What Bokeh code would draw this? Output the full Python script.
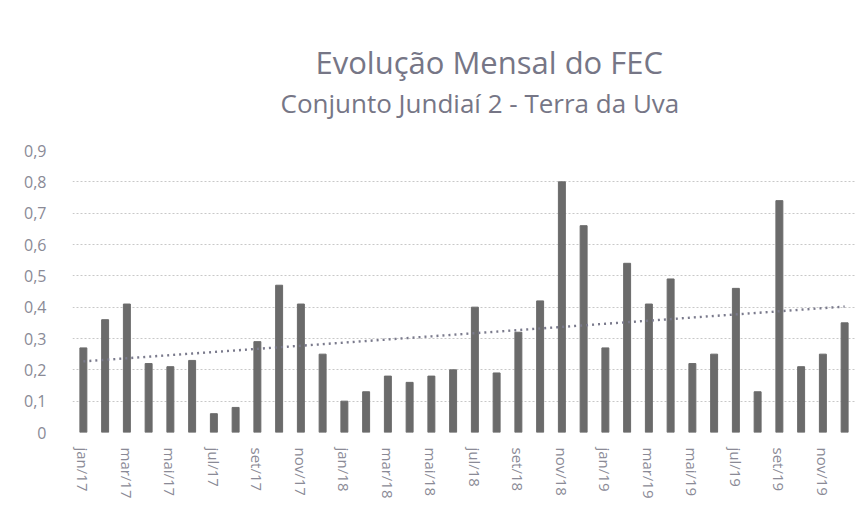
import numpy as np
from bokeh.plotting import figure
from bokeh.models import Title, Range1d, CustomJSTickFormatter, FixedTicker
from bokeh.embed import file_html
from bokeh.resources import INLINE

month_abbr = ["jan", "fev", "mar", "abr", "mai", "jun", "jul", "ago", "set", "out", "nov", "dez"]
years = ["17", "18", "19"]
months = [f"{m}/{y}" for y in years for m in month_abbr]

fec = [0.27, 0.36, 0.41, 0.22, 0.21, 0.23, 0.06, 0.08, 0.29, 0.47, 0.41, 0.25,
       0.10, 0.13, 0.18, 0.16, 0.18, 0.20, 0.40, 0.19, 0.32, 0.42, 0.80, 0.66,
       0.27, 0.54, 0.41, 0.49, 0.22, 0.25, 0.46, 0.13, 0.74, 0.21, 0.25, 0.35]

y_ticks = [0, 0.1, 0.2, 0.3, 0.4, 0.5, 0.6, 0.7, 0.8, 0.9]

title_text = "Evolução Mensal do FEC"
subtitle_text = "Conjunto Jundiaí 2 - Terra da Uva"

idx = list(range(len(fec)))
# linear trend (least squares) as in the spreadsheet chart
slope, intercept = np.polyfit(idx, fec, 1)
trend = [slope * i + intercept for i in idx]

FONT = "Open Sans"
GREY = "#8a8a96"
TITLE_COLOR = "#767686"

p = figure(width=858, height=503, output_backend="svg", toolbar_location=None,
           x_range=Range1d(-0.5, len(fec) - 0.5),
           y_range=Range1d(0, 0.9),
           min_border_left=72, min_border_right=3, min_border_bottom=71, min_border_top=150)

p.vbar(x=idx, top=fec, width=0.32, color="#6b6b6b")
p.line(x=idx, y=trend, color="#7a7a8c", line_width=2.4, line_dash="2 4")

p.outline_line_color = None
p.xgrid.grid_line_color = None
p.ygrid.grid_line_color = "#c8c8c8"
p.ygrid.grid_line_dash = "2 2"
p.ygrid.grid_line_width = 1

p.yaxis.ticker = FixedTicker(ticks=y_ticks)
p.yaxis.formatter = CustomJSTickFormatter(code="""
const s = tick.toFixed(1).replace('.', ',');
return s === '0,0' ? '0' : s;
""")
p.yaxis.axis_line_color = None
p.yaxis.major_tick_line_color = None
p.yaxis.minor_tick_line_color = None
p.yaxis.major_label_text_font = FONT
p.yaxis.major_label_text_font_size = "16px"
p.yaxis.major_label_text_color = GREY
p.yaxis.major_label_standoff = 20

p.xaxis.ticker = FixedTicker(ticks=idx[::2])
p.xaxis.major_label_overrides = {i: months[i] for i in idx[::2]}
p.xaxis.axis_line_color = None
p.xaxis.major_tick_line_color = None
p.xaxis.minor_tick_line_color = None
p.xaxis.major_label_orientation = "vertical"
p.xaxis.major_label_text_font = FONT
p.xaxis.major_label_text_font_size = "15px"
p.xaxis.major_label_text_color = GREY
p.xaxis.major_label_standoff = 9

# spacer between frame and subtitle
p.add_layout(Title(text=" ", text_font_size="1px", standoff=27), "above")
p.add_layout(Title(text=subtitle_text, align="left", offset=208, text_font=FONT,
                   text_font_size="26px", text_color=TITLE_COLOR, text_font_style="normal",
                   standoff=0), "above")
p.add_layout(Title(text=title_text, align="left", offset=243, text_font=FONT,
                   text_font_size="31px", text_color=TITLE_COLOR, text_font_style="normal",
                   standoff=0), "above")

open("out.html", "w").write(file_html(p, INLINE))
